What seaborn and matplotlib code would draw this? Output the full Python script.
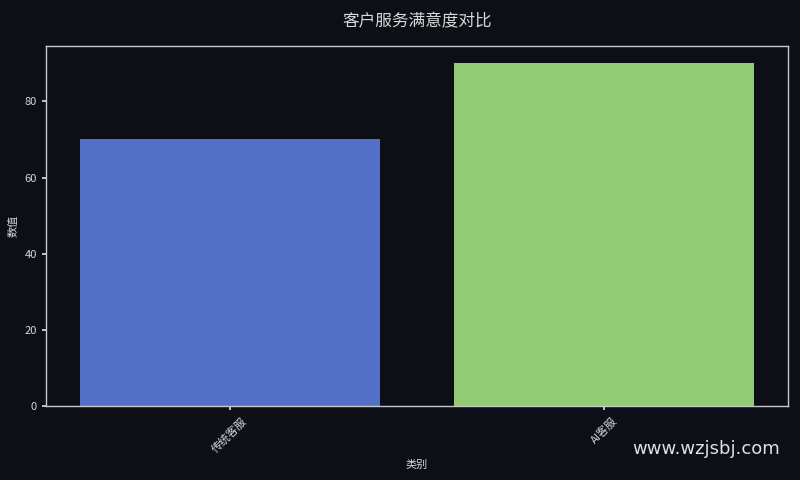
"""Bar chart: customer service satisfaction comparison (dark theme)."""

import matplotlib
matplotlib.use("Agg")
import matplotlib.pyplot as plt
import pandas as pd
import seaborn as sns

categories = ["传统客服", "AI客服"]
values = [70, 90]
bar_colors = ["#5470c6", "#91cc75"]

BG = "#0c0f16"
FG = "#d8d8d8"

sns.set_theme(style="dark")
plt.rcParams["font.family"] = ["Noto Sans CJK SC", "DejaVu Sans"]
plt.rcParams["axes.unicode_minus"] = False

df = pd.DataFrame({"类别": categories, "数值": values})

fig, ax = plt.subplots(figsize=(8, 4.8), dpi=100)
fig.patch.set_facecolor(BG)
ax.set_facecolor(BG)

sns.barplot(data=df, x="类别", y="数值", hue="类别", palette=bar_colors,
            legend=False, width=0.8, saturation=1, edgecolor="none",
            linewidth=0, ax=ax)
ax.set_xlim(-0.49, 1.49)

ax.set_title("客户服务满意度对比", color=FG, fontsize=12, pad=14)
ax.set_xlabel("类别", color=FG, fontsize=8)
ax.set_ylabel("数值", color=FG, fontsize=8)
ax.tick_params(axis="both", colors=FG, labelsize=8, length=3, left=True, bottom=True)
plt.setp(ax.get_xticklabels(), rotation=45)
for s in ax.spines.values():
    s.set_color("#c8c8c8")
    s.set_linewidth(1)
ax.grid(False)

fig.text(0.975, 0.065, "www.wzjsbj.com", color="#e0e0e0", fontsize=13,
         ha="right", va="center", family=["DejaVu Sans"])

plt.tight_layout()
fig.subplots_adjust(left=0.0575, right=0.985, top=0.904, bottom=0.154)
fig.savefig("out.png", dpi=100, facecolor=BG)
